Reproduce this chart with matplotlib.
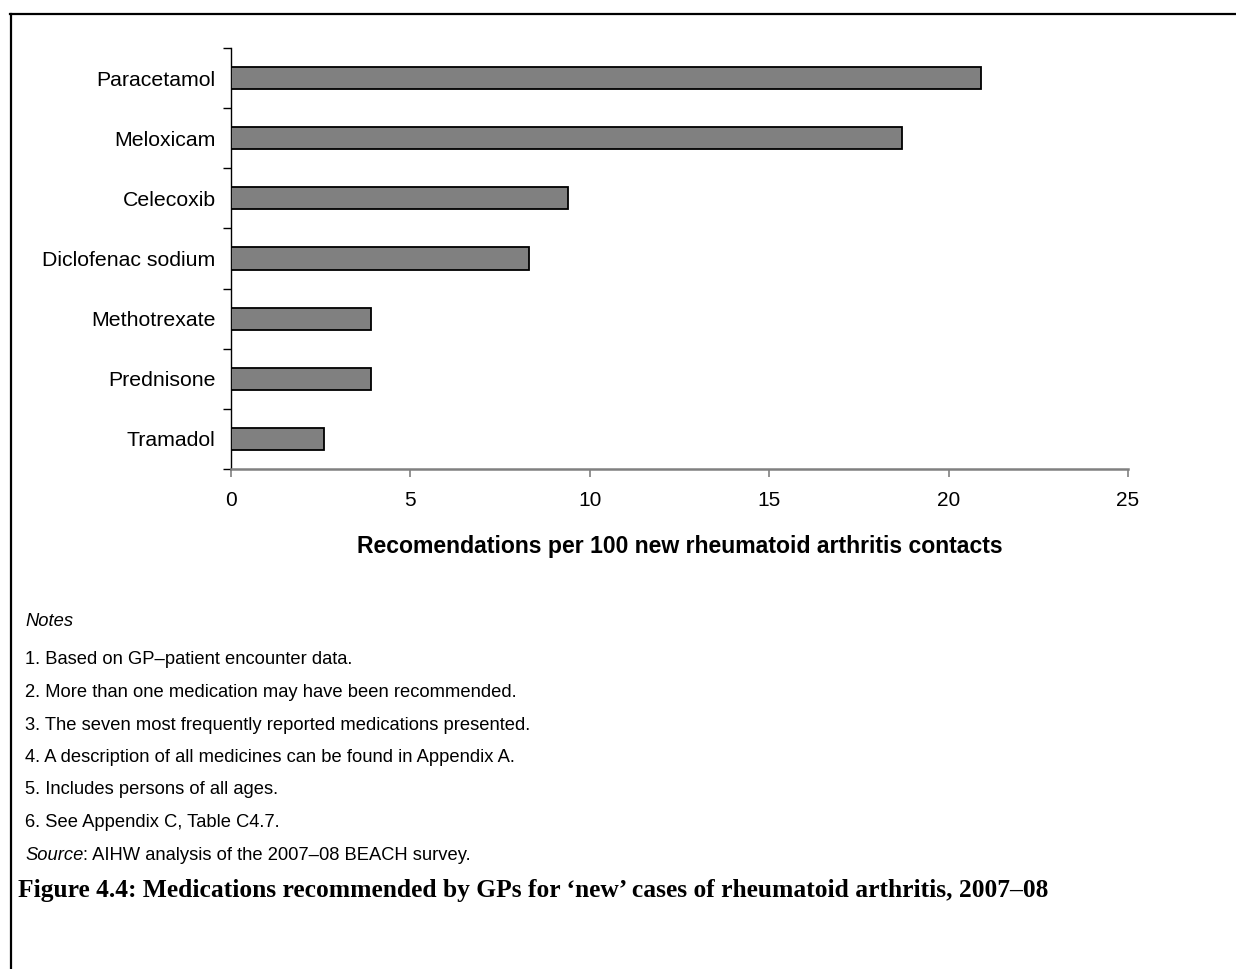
import matplotlib
matplotlib.use("Agg")
import matplotlib.pyplot as plt
from matplotlib.lines import Line2D
import numpy as np

# data
medications = ["Paracetamol", "Meloxicam", "Celecoxib", "Diclofenac sodium",
               "Methotrexate", "Prednisone", "Tramadol"]
rates = [20.9, 18.7, 9.4, 8.3, 3.9, 3.9, 2.6]
x_ticks = [0, 5, 10, 15, 20, 25]

x_label = "Recomendations per 100 new rheumatoid arthritis contacts"
notes = [
    "1. Based on GP\u2013patient encounter data.",
    "2. More than one medication may have been recommended.",
    "3. The seven most frequently reported medications presented.",
    "4. A description of all medicines can be found in Appendix A.",
    "5. Includes persons of all ages.",
    "6. See Appendix C, Table C4.7.",
]
caption = ("Figure 4.4: Medications recommended by GPs for \u2018new\u2019 cases "
           "of rheumatoid arthritis, 2007\u201308")

plt.rcParams['font.family'] = ['Liberation Sans', 'DejaVu Sans']

W, H = 1236, 969
fig = plt.figure(figsize=(W / 100, H / 100), dpi=100)

# axes placed in pixel terms
left, right, top, bottom = 231, 1128, 48, 469
ax = fig.add_axes([left / W, 1 - bottom / H, (right - left) / W, (bottom - top) / H])

y = np.arange(len(medications))
ax.barh(y, rates, height=0.37, color="#808080", edgecolor="black", linewidth=1.3, zorder=3)

ax.set_xlim(0, 25)
ax.set_ylim(len(medications) - 0.5, -0.5)
ax.set_xticks(x_ticks)
ax.set_xticklabels([str(t) for t in x_ticks], fontsize=15)
ax.set_yticks(y)
ax.set_yticklabels(medications, fontsize=15.3)
ax.set_yticks(np.arange(-0.5, len(medications) + 0.5, 1), minor=True)
ax.tick_params(axis="y", which="major", length=0, pad=11)
ax.tick_params(axis="y", which="minor", length=6, width=1, color="black", direction="out")
ax.tick_params(axis="x", which="major", length=6, width=1.2, color="#808080", pad=10)

for s in ["top", "right"]:
    ax.spines[s].set_visible(False)
ax.spines["left"].set_linewidth(1)
ax.spines["left"].set_color("black")
ax.spines["bottom"].set_linewidth(1.8)
ax.spines["bottom"].set_color("#808080")

ax.set_xlabel(x_label, fontsize=16.6, fontweight="bold", labelpad=18)

# notes block under the chart
fs = 13.2
fig.text(25 / W, 1 - 621 / H, "Notes", fontsize=fs, style="italic", va="center")
for i, note in enumerate(notes):
    fig.text(25 / W, 1 - (660 + i * 32.5) / H, note, fontsize=fs, va="center")
src = fig.text(25 / W, 1 - 855 / H, "Source", fontsize=fs, style="italic", va="center")
fig.canvas.draw()
bb = src.get_window_extent()
fig.text(bb.x1 / W, 1 - 855 / H, ": AIHW analysis of the 2007\u201308 BEACH survey.",
         fontsize=fs, va="center")

fig.text(18 / W, 1 - 891 / H, caption, fontsize=18.4, fontweight="bold",
         family=["Liberation Serif", "DejaVu Serif"], va="center")

# frame lines (top and left only)
fig.add_artist(Line2D([10 / W, 1], [1 - 14 / H, 1 - 14 / H], color="black", lw=1.6))
fig.add_artist(Line2D([11 / W, 11 / W], [0, 1 - 14 / H], color="black", lw=1.6))

fig.savefig("out.png", dpi=100)
